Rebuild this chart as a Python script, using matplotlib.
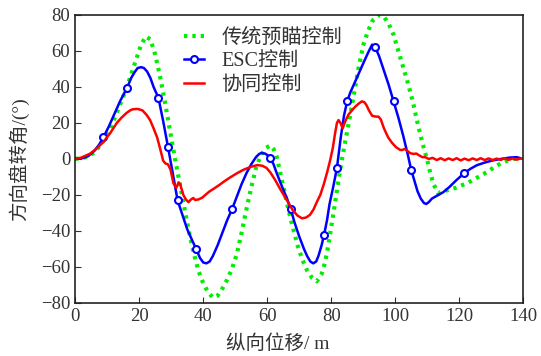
import matplotlib
matplotlib.use('Agg')
import matplotlib.pyplot as plt

plt.rcParams['font.family'] = ['Liberation Serif', 'Noto Sans CJK SC']

# 传统预瞄控制
x_trad = [0, 3, 6, 8.8, 11, 13.5, 16, 17.5, 19, 20.5, 22, 23.5, 25, 26.5, 28, 29.5, 31,
          32.5, 34, 35.5, 37, 38.5, 40, 41.5, 43, 44.5, 46, 47.5, 49, 50.5, 52, 53.5,
          55, 56.5, 58, 59.5, 61, 62, 63, 64, 65, 66.5, 68, 69.5, 71, 72.5, 74, 75.5,
          77, 78, 79, 80, 81, 82, 83, 84, 85.5, 87, 88.5, 90, 91.5, 93, 95, 96.5, 98,
          99.5, 101, 102.5, 104, 105.5, 107, 108.5, 110, 111, 112, 113.4, 115, 117,
          119, 121, 123, 125, 127, 129, 131, 133, 135, 137, 139]
y_trad = [0, 0.8, 3.5, 10, 17, 28, 39, 47, 55, 63, 68, 66.5, 58, 46, 32, 17, 2, -12,
          -26, -40, -52, -62, -69, -74, -77, -76, -72, -67, -61, -53, -41, -28, -16,
          -5, 2, 6, 7.5, 5.5, 1, -7, -15, -27, -38, -48, -56, -62, -66, -68, -64, -58,
          -49, -38, -27, -15, -4, 6, 20, 35, 50, 63, 71, 77, 80, 79, 75, 69, 60, 51,
          42, 32, 20, 9, -0.5, -8, -14, -19, -18, -17, -16, -14.5, -13, -11, -9, -7,
          -4.5, -2.5, -1, 0, 0.5]

# ESC控制
x_esc = [0, 2, 4, 6, 7.5, 8.8, 10.5, 12, 14, 16.2, 17.5, 18.5, 19.5, 20.6, 21.5, 22.5,
         23.5, 24.5, 26, 27.5, 29, 30.5, 32, 33.5, 35, 36.5, 37.8, 39, 40, 41, 42, 43,
         44.5, 46, 47.5, 49, 50.5, 52, 53.5, 55, 56.5, 57.5, 58.3, 59.3, 60.2, 61, 62,
         63, 64, 65, 66.2, 67.4, 68.5, 70, 71.5, 72.5, 73.5, 74.4, 75.3, 76, 77, 77.8,
         78.7, 79.5, 80.7, 81.8, 83, 84, 85, 86, 87.5, 89, 90.5, 91.8, 92.8, 93.8, 95,
         96.5, 98, 99.5, 101, 102.5, 104, 105, 106, 107, 108, 109, 109.7, 110.5, 111.5,
         113, 115, 117, 119, 121.5, 123.5, 125.5, 128, 130.5, 133, 136, 138, 139]
y_esc = [0, 0.3, 1.5, 4.5, 8, 12, 18, 24, 32, 39.5, 45, 48, 50.5, 51, 50.5, 48.5, 45,
         40, 34, 21, 6.7, -8, -23, -31, -39, -45, -50, -55, -57.5, -58, -57, -54, -48,
         -41, -34, -28, -21, -14, -8, -3, 1, 2.8, 3.3, 3, 2, 0.6, -3, -8, -12.5, -17,
         -22, -28, -35, -43, -50, -54, -57, -58, -57, -54, -48, -42, -34, -25, -15, -5,
         12, 24, 32, 37, 43, 49, 55, 60, 63.5, 62, 57, 49, 41, 32, 23, 13, 2, -6, -12,
         -18, -22, -24.5, -25, -24, -22, -20.5, -18.5, -15.5, -12, -8, -5.5, -3.5, -2,
         -0.8, 0, 0.8, 1, 0.5]
esc_mark_x = [8.8, 16.2, 26, 29, 32, 37.8, 49, 61, 67.4, 77.8, 81.8, 85, 93.8, 99.5,
              105, 121.5]

# 协同控制
x_coop = [0, 2, 4.7, 6.5, 8.8, 11, 13, 14.5, 16, 17.2, 18, 19.5, 21, 22.3, 23.4, 24.5,
          25.6, 26.5, 27.5, 28.2, 29, 29.8, 30.7, 31.6, 32.3, 32.8, 33.8, 34.6, 35.4,
          36.2, 36.9, 37.5, 38.5, 39.7, 41, 42, 43.5, 45, 46.7, 48.4, 50.5, 52.6, 55,
          57, 58.5, 59.8, 61, 62.5, 64, 65.5, 66.7, 68, 69.5, 70.9, 72.2, 73.4, 74.5,
          75.5, 76.6, 77.7, 78.8, 79.7, 80.5, 81.2, 81.8, 82.3, 82.9, 83.6, 84.3, 85.4,
          86.5, 87.5, 88.5, 89.6, 90.4, 91, 91.8, 92.8, 94, 94.8, 95.5, 96.5, 97.8, 99,
          100.3, 101.6, 102.3, 103, 103.8, 104.7, 105.7, 106.6, 107.5, 108.5, 109.4,
          110.5, 111.7, 113, 114.2, 115.5, 116.7, 118, 119.2, 120.5, 121.7, 123, 124.2,
          125.5, 126.7, 128, 129.2, 130.5, 131.7, 133, 134.2, 135.5, 136.7, 138, 139.2,
          140]
y_coop = [0, 0.8, 3, 5.5, 9.4, 14.5, 20, 23, 25.5, 27, 27.6, 27.8, 27, 24.5, 21.6, 17,
          12, 6, -1, -2.5, -3, -6, -13.5, -16, -13, -14, -20, -22.5, -24, -22.5, -21.7,
          -22.8, -22.5, -21.5, -19.5, -18, -16.3, -14.5, -12.3, -10.3, -8, -6, -4.3,
          -3.4, -3.8, -5, -7.5, -11.7, -16.5, -21, -24.6, -28.5, -31.5, -33, -32.5, -31,
          -28, -24, -20, -14, -7, -0.6, 6, 14, 20, 21.6, 20, 17, 20.5, 24.6, 27, 29,
          30.6, 32, 31.5, 30, 27, 24, 23.5, 23.5, 22, 17, 12, 9, 6.5, 5, 5, 5.6, 4.5,
          3.2, 2.8, 3, 2, 1, 1, 0, 0.6, -0.6, 0.4, -0.7, 0.3, -0.6, 0.4, -0.8, 0.2,
          -0.7, 0.3, -0.6, 0.4, -0.6, 0.3, -0.6, 0.2, -0.5, 0.4, -0.5, 0.3, -0.4, 0.3,
          0]

fig, ax = plt.subplots(figsize=(5.41, 3.56), dpi=100)
fig.subplots_adjust(left=0.139, right=0.967, top=0.958, bottom=0.149)

ax.plot(x_trad, y_trad, color='#00ee00', lw=3, linestyle=(0, (0.8, 1.2)),
        label='传统预瞄控制')
ax.plot(x_esc, y_esc, color='#0000ff', lw=1.8, marker='o', markersize=5,
        markerfacecolor='white', markeredgewidth=1.5,
        markevery=[x_esc.index(v) for v in esc_mark_x], label='ESC控制')
ax.plot(x_coop, y_coop, color='#ff0000', lw=1.8, label='协同控制')

ax.set_xlim(0, 140)
ax.set_ylim(-80, 80)
ax.set_xticks(range(0, 141, 20))
ax.set_yticks(range(-80, 81, 20))
ax.tick_params(direction='in', length=4, labelsize=13.5, colors='#333333',
               top=False, right=False)
for s in ax.spines.values():
    s.set_linewidth(1.2)
    s.set_color('#222222')

ax.set_xlabel('纵向位移/ m', fontsize=14, color='#333333')
ax.set_ylabel('方向盘转角/(°)', fontsize=14, color='#333333')
ax.xaxis.set_label_coords(0.453, -0.108)
ax.yaxis.set_label_coords(-0.103, 0.5)

ax.legend(loc='upper left', bbox_to_anchor=(0.203, 1.015), frameon=False,
          fontsize=14.5, handlelength=1.0, handletextpad=0.85, labelspacing=0.22,
          labelcolor='#333333')

fig.savefig('out.png', dpi=100)
